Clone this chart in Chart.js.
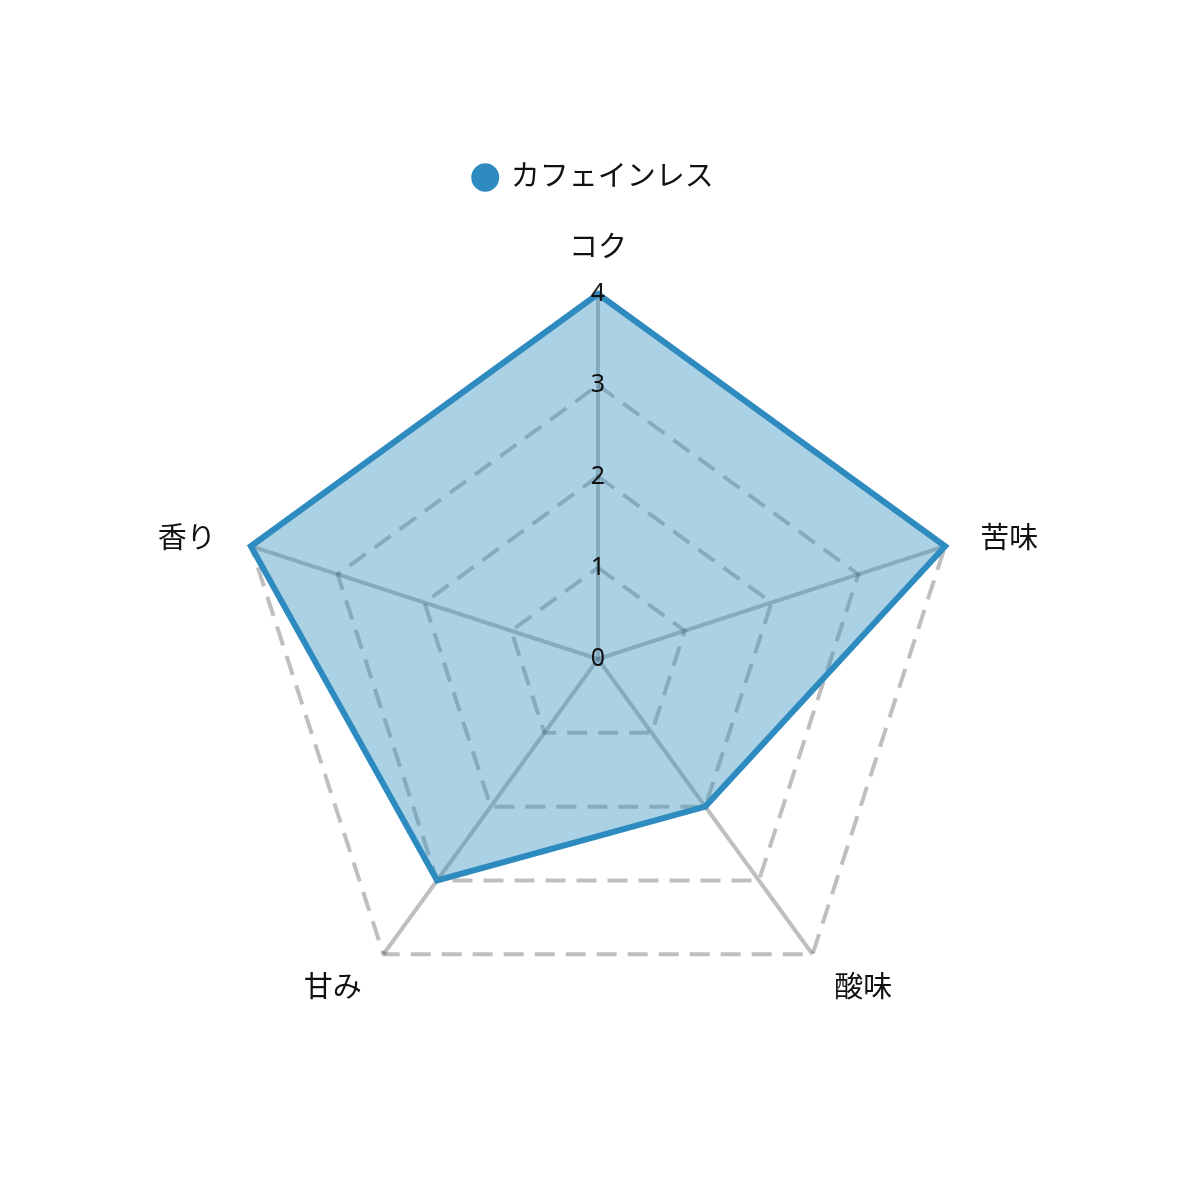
<!DOCTYPE html>
<html>
<head>
<meta charset="utf-8">
<script src="https://cdn.jsdelivr.net/npm/chart.js@4"></script>
<style>
  html, body { margin: 0; padding: 0; background: #fff; }
  #wrap { width: 1181px; height: 1181px; position: relative; }
</style>
</head>
<body>
<div id="wrap"><canvas id="radar"></canvas></div>
<script>
// 味のプロファイル
const labels = ['コク', '苦味', '酸味', '甘み', '香り'];
const seriesName = 'カフェインレス';
const values = [4, 4, 2, 3, 4];
const ticks = [0, 1, 2, 3, 4];

const FONT = "'Noto Sans', 'Noto Sans CJK JP', sans-serif";
const BLUE = 'rgb(46,139,191)';
const TEXT = '#111';

// 軸ラベルと 0 の目盛りを自前で描く (中央揃え・左右寄せ)
const axisText = {
  id: 'axisText',
  afterDraw(chart) {
    const r = chart.scales.r;
    const ctx = chart.ctx;
    ctx.save();
    ctx.fillStyle = TEXT;

    // 0 の目盛り
    ctx.font = `25px ${FONT}`;
    ctx.textAlign = 'center';
    ctx.textBaseline = 'middle';
    const p0 = r.getPointPositionForValue(0, ticks[0]);
    ctx.fillText(String(ticks[0]), p0.x, p0.y);

    // 軸ラベル
    ctx.font = `29px ${FONT}`;
    labels.forEach((txt, i) => {
      const p = r.getPointPosition(i, r.drawingArea + 37);
      const c = Math.cos(p.angle), s = Math.sin(p.angle);
      const top = s < -0.95;
      ctx.textAlign = Math.abs(c) < 0.05 ? 'center' : (c > 0 ? 'left' : 'right');
      ctx.textBaseline = top ? 'alphabetic' : (s > 0.95 ? 'top' : 'middle');
      ctx.fillText(txt, p.x, top ? p.y : p.y + 5);
    });
    ctx.restore();
  }
};

new Chart(document.getElementById('radar').getContext('2d'), {
  type: 'radar',
  data: {
    labels,
    datasets: [{
      label: seriesName,
      data: values,
      borderColor: BLUE,
      backgroundColor: 'rgba(46,139,191,0.4)',
      borderWidth: 6,
      pointRadius: 0,
      pointHoverRadius: 0,
      pointBackgroundColor: BLUE,
      pointBorderColor: BLUE,
      fill: true
    }]
  },
  options: {
    responsive: true,
    maintainAspectRatio: false,
    animation: false,
    layout: { padding: { top: 153, bottom: 65, left: 214, right: 207 } },
    plugins: {
      legend: {
        position: 'top',
        labels: {
          usePointStyle: true,
          pointStyle: 'circle',
          pointStyleWidth: 22,
          boxHeight: 16,
          color: TEXT,
          font: { family: FONT, size: 29 }
        }
      },
      tooltip: { enabled: false }
    },
    scales: {
      r: {
        min: ticks[0],
        max: ticks[ticks.length - 1],
        beginAtZero: true,
        angleLines: { color: 'rgba(0,0,0,0.25)', lineWidth: 4 },
        grid: { color: 'rgba(0,0,0,0.25)', lineWidth: 4 },
        border: { dash: [20, 11] },
        pointLabels: { display: false },
        ticks: {
          stepSize: 1,
          z: 1,
          color: TEXT,
          showLabelBackdrop: false,
          font: { family: FONT, size: 25 },
          callback: v => ticks.includes(v) ? String(v) : ''
        },
        afterFit: scale => { scale.xCenter += 4; }
      }
    }
  },
  plugins: [axisText]
});
</script>
</body>
</html>
